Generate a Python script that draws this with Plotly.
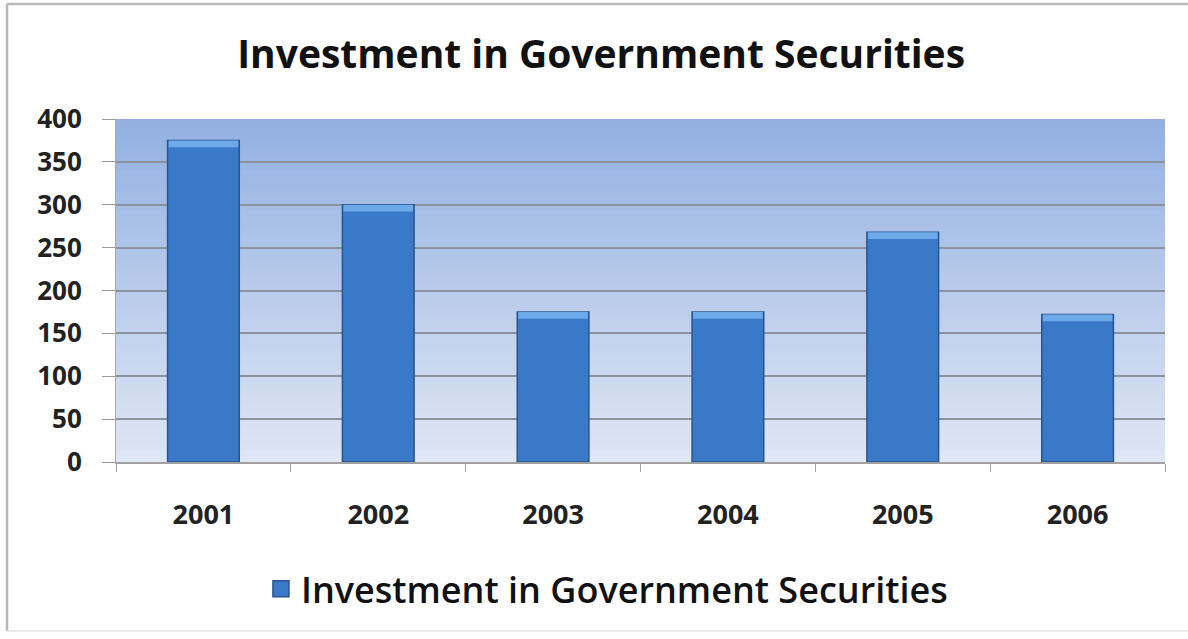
import plotly.graph_objects as go

# Chart data
years = ["2001", "2002", "2003", "2004", "2005", "2006"]
investment = [375, 300, 175, 175, 268, 172]
y_ticks = [0, 50, 100, 150, 200, 250, 300, 350, 400]

title_text = "Investment in Government Securities"
series_name = "Investment in Government Securities"

FONT = "Open Sans"
BAR_COLOR = "#3a79c8"
BAR_EDGE = "#28558f"
CAP_COLOR = "#6eaaea"
CAP_DEPTH = 8
BAR_WIDTH = 0.41

fig = go.Figure()

# Main bars
fig.add_trace(go.Bar(
    x=years, y=investment, name=series_name, showlegend=False,
    marker=dict(color=BAR_COLOR, line=dict(color=BAR_EDGE, width=1.5)),
    width=BAR_WIDTH,
))
# Light bevel at the top of each bar
fig.add_trace(go.Bar(
    x=years, y=[CAP_DEPTH] * len(years),
    base=[v - CAP_DEPTH for v in investment],
    showlegend=False, hoverinfo="skip",
    marker=dict(color=CAP_COLOR, line=dict(width=0)),
    width=BAR_WIDTH - 0.012,
))
# Legend entry with a large square swatch
fig.add_trace(go.Scatter(
    x=[None], y=[None], mode="markers", name=series_name,
    marker=dict(symbol="square", size=24, color=BAR_COLOR,
                line=dict(color=BAR_EDGE, width=1.5)),
))

# Vertical gradient for the plotting area (each band overlaps the ones below)
top_rgb = (147, 176, 226)
bot_rgb = (223, 230, 244)
n_bands = 60
shapes = []
for i in range(n_bands):
    t = i / (n_bands - 1)
    c = tuple(round(top_rgb[k] + (bot_rgb[k] - top_rgb[k]) * t) for k in range(3))
    shapes.append(dict(
        type="rect", xref="x domain", yref="y domain",
        x0=0, x1=1, y0=0, y1=1 - i / n_bands,
        fillcolor="rgb(%d,%d,%d)" % c, line=dict(width=0), layer="below",
    ))
# Outer chart frame: left, top and bottom edges
frame = dict(color="#b8b8b8", width=2.5)
px_x = lambda p: (p - 116) / 1049
px_y = lambda p: (462 - p) / 343
shapes += [
    dict(type="line", xref="paper", yref="paper", x0=px_x(7), x1=px_x(7),
         y0=px_y(631), y1=px_y(4), line=frame, layer="below"),
    dict(type="line", xref="paper", yref="paper", x0=px_x(7), x1=px_x(1188),
         y0=px_y(4), y1=px_y(4), line=frame, layer="below"),
    dict(type="line", xref="paper", yref="paper", x0=px_x(7), x1=px_x(1188),
         y0=px_y(631), y1=px_y(631), line=dict(color="#e4e4e4", width=1.5),
         layer="below"),
]

fig.update_layout(
    width=1188, height=639,
    margin=dict(l=116, r=23, t=119, b=177),
    paper_bgcolor="white",
    plot_bgcolor="rgba(0,0,0,0)",
    barmode="overlay",
    shapes=shapes,
    title=dict(
        text=title_text,
        x=0.506, xanchor="center", y=0.915, yanchor="middle",
        font=dict(family=FONT, size=39, color="#111111", weight="bold"),
    ),
    showlegend=True,
    legend=dict(
        orientation="h", x=0.468, xanchor="center", y=-0.37, yanchor="middle",
        font=dict(family=FONT, size=36, color="#111111", weight=600),
        itemsizing="trace",
    ),
    font=dict(family=FONT),
)

fig.update_yaxes(
    range=[0, 400], tickvals=y_ticks,
    showgrid=True, gridcolor="#8c929c", gridwidth=1.5,
    ticks="outside", ticklen=13, tickcolor="#9a9a9a",
    tickfont=dict(family=FONT, size=26, color="#222222", weight="bold"),
    ticklabelstandoff=15,
    showline=True, linecolor="#a8a8a8", linewidth=1,
    zeroline=False,
)
fig.update_xaxes(
    tickfont=dict(family=FONT, size=27, color="#222222", weight="bold"),
    showline=True, linecolor="#a0a0a0", linewidth=1.5,
    ticks="outside", ticklen=8, tickcolor="#a0a0a0", tickson="boundaries",
    ticklabelstandoff=28,
)

fig.write_html("out.html")
